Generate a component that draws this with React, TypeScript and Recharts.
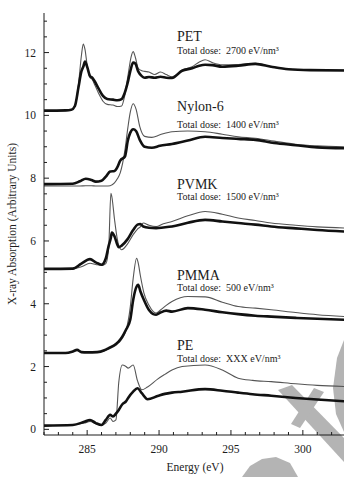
import { LineChart, Line, XAxis, YAxis, ReferenceDot } from "recharts";

const FONT = '"Liberation Serif", "Times New Roman", Times, serif';
const INK = "#1c1c1c";

// C 1s NEXAFS spectra, stacked with offsets. "pristine" = thin trace, "damaged" = thick trace.
const petEnergy = [282.0, 283.5, 283.9, 284.15, 284.4, 284.6, 284.73, 284.85, 285.0, 285.2, 285.35, 285.5, 285.8, 286.1, 286.4, 286.8, 287.1, 287.4, 287.6, 287.85, 288.05, 288.2, 288.35, 288.55, 288.8, 289.0, 289.3, 289.7, 290.1, 290.5, 290.9, 291.6, 292.3, 292.8, 293.2, 293.7, 294.4, 295.5, 296.7, 297.8, 299.0, 300.5, 303.0];
const petPristine = [10.15, 10.15, 10.17, 10.3, 11.0, 11.9, 12.27, 12.1, 11.6, 11.2, 11.15, 11.0, 10.7, 10.45, 10.35, 10.33, 10.28, 10.3, 10.6, 11.3, 11.85, 12.03, 11.85, 11.5, 11.42, 11.4, 11.38, 11.3, 11.38, 11.3, 11.23, 11.44, 11.55, 11.7, 11.77, 11.68, 11.61, 11.62, 11.66, 11.55, 11.47, 11.45, 11.44];
const petDamaged = [10.15, 10.16, 10.18, 10.3, 10.9, 11.4, 11.55, 11.71, 11.55, 11.25, 11.2, 11.1, 10.85, 10.62, 10.52, 10.5, 10.48, 10.52, 10.7, 11.1, 11.5, 11.68, 11.65, 11.4, 11.25, 11.2, 11.22, 11.2, 11.23, 11.2, 11.19, 11.42, 11.5, 11.58, 11.61, 11.6, 11.55, 11.58, 11.64, 11.55, 11.47, 11.44, 11.43];

const nylonEnergy = [282.0, 284.0, 284.5, 284.9, 285.3, 285.6, 286.0, 286.3, 286.6, 286.9, 287.1, 287.3, 287.63, 287.83, 288.0, 288.2, 288.4, 288.66, 289.0, 289.5, 290.06, 290.9, 292.0, 293.2, 294.4, 295.5, 296.7, 298.0, 299.5, 301.0, 303.0];
const nylonPristine = [7.75, 7.75, 7.75, 7.76, 7.76, 7.75, 7.75, 7.75, 7.76, 7.85, 7.98, 8.17, 8.9, 9.6, 10.1, 10.37, 10.2, 9.64, 9.33, 9.3, 9.38, 9.48, 9.5, 9.48, 9.4, 9.32, 9.27, 9.18, 9.08, 9.03, 9.0];
const nylonDamaged = [7.81, 7.82, 7.9, 7.98, 7.94, 7.89, 7.92, 8.05, 8.21, 8.23, 8.35, 8.56, 8.69, 9.2, 9.45, 9.56, 9.5, 9.22, 9.0, 8.97, 9.03, 9.09, 9.2, 9.32, 9.28, 9.25, 9.22, 9.12, 9.05, 8.98, 8.95];

const pvmkEnergy = [282.0, 284.0, 284.6, 285.2, 285.6, 286.0, 286.3, 286.5, 286.65, 286.72, 286.9, 287.1, 287.2, 287.4, 287.8, 288.2, 288.5, 288.7, 288.9, 289.3, 289.8, 290.3, 290.9, 292.0, 293.2, 294.4, 295.5, 296.7, 297.8, 299.5, 301.0, 303.0];
const pvmkPristine = [5.11, 5.11, 5.18, 5.29, 5.25, 5.22, 5.28, 5.8, 7.52, 7.4, 6.7, 6.05, 5.85, 5.72, 5.9, 6.2, 6.38, 6.45, 6.57, 6.5, 6.46, 6.55, 6.62, 6.8, 6.94, 6.85, 6.73, 6.65, 6.57, 6.5, 6.45, 6.41];
const pvmkDamaged = [5.11, 5.12, 5.28, 5.42, 5.32, 5.24, 5.45, 5.85, 6.1, 6.27, 6.15, 5.88, 5.8, 5.85, 6.05, 6.35, 6.52, 6.54, 6.46, 6.42, 6.41, 6.43, 6.46, 6.58, 6.67, 6.62, 6.57, 6.52, 6.46, 6.4, 6.35, 6.3];

const pmmaEnergy = [282.0, 283.5, 284.0, 284.3, 284.6, 285.0, 285.7, 286.2, 286.5, 287.0, 287.2, 287.7, 288.0, 288.2, 288.44, 288.55, 288.7, 288.95, 289.3, 289.6, 289.8, 290.1, 290.5, 290.9, 292.0, 293.2, 294.4, 295.5, 296.7, 297.8, 299.5, 301.0, 303.0];
const pmmaPristine = [2.43, 2.43, 2.47, 2.53, 2.46, 2.45, 2.46, 2.5, 2.56, 2.68, 2.76, 3.15, 3.9, 4.8, 5.45, 5.3, 4.9, 4.34, 3.95, 3.75, 3.7, 3.8, 3.95, 4.07, 4.23, 4.22, 4.05, 3.91, 3.86, 3.81, 3.72, 3.65, 3.59];
const pmmaDamaged = [2.43, 2.43, 2.48, 2.53, 2.46, 2.45, 2.46, 2.52, 2.59, 2.72, 2.8, 3.17, 3.5, 4.12, 4.55, 4.6, 4.4, 4.12, 3.8, 3.67, 3.65, 3.72, 3.78, 3.75, 3.86, 3.81, 3.73, 3.67, 3.62, 3.59, 3.55, 3.52, 3.49];

const peEnergy = [282.0, 284.0, 284.8, 285.2, 285.6, 286.0, 286.3, 286.6, 286.8, 287.0, 287.2, 287.45, 287.7, 287.85, 288.2, 288.5, 288.8, 289.2, 289.9, 290.4, 290.9, 291.6, 293.2, 294.4, 295.5, 296.5, 297.8, 299.5, 301.0, 303.0];
const pePristine = [0.12, 0.14, 0.2, 0.25, 0.18, 0.14, 0.2, 0.36, 0.25, 0.3, 1.5, 2.05, 2.0, 1.95, 2.05, 1.55, 1.26, 1.35, 1.6, 1.75, 1.89, 2.0, 2.05, 1.89, 1.63, 1.56, 1.52, 1.45, 1.4, 1.36];
const peDamaged = [0.12, 0.14, 0.24, 0.3, 0.2, 0.14, 0.3, 0.46, 0.41, 0.5, 0.62, 0.8, 0.89, 1.0, 1.2, 1.31, 1.15, 0.96, 1.06, 1.13, 1.17, 1.2, 1.28, 1.23, 1.17, 1.12, 1.07, 1.0, 0.95, 0.89];

// annotation text
const polymerNames = ["PET", "Nylon-6", "PVMK", "PMMA", "PE"];
const doseValues = ["2700", "1400", "1500", "500", "XXX"];
const nameLevels = [12.36, 10.15, 7.66, 4.77, 2.52];
const doseLevels = [11.97, 9.61, 7.3, 4.42, 2.13];
const labelEnergy = 291.25;

const xTicks = Array.from({ length: 22 }, (_, i) => 282 + i);
const yTicks = Array.from({ length: 27 }, (_, i) => i * 0.5);

const rows = (energy: number[], values: number[]) => energy.map((e, i) => ({ e, v: values[i] }));

const spectra = [
  { key: "pet", pristine: rows(petEnergy, petPristine), damaged: rows(petEnergy, petDamaged) },
  { key: "nylon", pristine: rows(nylonEnergy, nylonPristine), damaged: rows(nylonEnergy, nylonDamaged) },
  { key: "pvmk", pristine: rows(pvmkEnergy, pvmkPristine), damaged: rows(pvmkEnergy, pvmkDamaged) },
  { key: "pmma", pristine: rows(pmmaEnergy, pmmaPristine), damaged: rows(pmmaEnergy, pmmaDamaged) },
  { key: "pe", pristine: rows(peEnergy, pePristine), damaged: rows(peEnergy, peDamaged) },
];

const serif = { fontFamily: FONT };

// ticks point into the plot; majors get labels
function BottomTick({ x, y, payload }: any) {
  const major = payload.value % 5 === 0;
  return (
    <g>
      <line x1={x} y1={y} x2={x} y2={y - (major ? 5 : 3)} stroke={INK} />
      {major && (
        <text x={x} y={y + 18} textAnchor="middle" style={serif} fontSize={11.5} fill={INK}>
          {payload.value}
        </text>
      )}
    </g>
  );
}

function TopTick({ x, y, payload }: any) {
  const major = payload.value % 5 === 0;
  return <line x1={x} y1={y} x2={x} y2={y + (major ? 5 : 3)} stroke={INK} />;
}

function LeftTick({ x, y, payload }: any) {
  const major = payload.value % 2 === 0;
  return (
    <g>
      <line x1={x} y1={y} x2={x + (major ? 5 : 3)} y2={y} stroke={INK} />
      {major && (
        <text x={x - 8} y={y + 4} textAnchor="end" style={serif} fontSize={11.5} fill={INK}>
          {payload.value}
        </text>
      )}
    </g>
  );
}

function RightTick({ x, y, payload }: any) {
  const major = payload.value % 2 === 0;
  return <line x1={x} y1={y} x2={x - (major ? 5 : 3)} y2={y} stroke={INK} />;
}

const textAt = (content: string, size: number) => ({ viewBox }: any) => (
  <text x={viewBox.x} y={viewBox.y} style={serif} fontSize={size} fill={INK}>
    {content}
  </text>
);

export default function App() {
  return (
    <div
      style={{
        position: "absolute",
        left: 0,
        top: 0,
        width: 344,
        height: 477,
        overflow: "hidden",
        background: "#fff",
        fontFamily: FONT,
      }}
    >
      {/* grey overlay marks in the lower right corner */}
      <svg width={344} height={477} style={{ position: "absolute", left: 0, top: 0 }}>
        <g fill="#b4b4b4">
          <polygon points="278,390 292,385 344,438 344,462" />
          <polygon points="314,388 324,392 300,428 291,424" />
          <polygon points="344,340 337,358 333,388 336,414 344,432" />
          <polygon points="242,477 250,466 262,459 276,457 290,463 298,477" />
        </g>
      </svg>
      <div style={{ position: "absolute", left: 0, top: 0 }}>
        <LineChart
          width={350}
          height={477}
          margin={{ top: 13, right: 4, bottom: 0, left: 0 }}
          style={{ fontFamily: FONT }}
        >
          <XAxis
            dataKey="e"
            type="number"
            domain={[282, 303]}
            allowDataOverflow
            ticks={xTicks}
            interval={0}
            tickSize={0}
            tickMargin={0}
            tickLine={false}
            tick={(p: any) => <BottomTick {...p} />}
            height={42}
            stroke={INK}
            label={{
              value: "Energy (eV)",
              position: "insideBottom",
              offset: 6,
              fontSize: 11.5,
              fill: INK,
              style: serif,
            }}
          />
          <XAxis
            xAxisId="top"
            orientation="top"
            dataKey="e"
            type="number"
            domain={[282, 303]}
            allowDataOverflow
            ticks={xTicks}
            interval={0}
            tickSize={0}
            tickMargin={0}
            tickLine={false}
            tick={(p: any) => <TopTick {...p} />}
            height={0}
            stroke={INK}
          />
          <YAxis
            type="number"
            domain={[-0.18, 13.26]}
            allowDataOverflow
            ticks={yTicks}
            interval={0}
            tickSize={0}
            tickMargin={0}
            tickLine={false}
            tick={(p: any) => <LeftTick {...p} />}
            width={44}
            stroke={INK}
            label={{
              value: "X-ray Absorption (Arbitrary Units)",
              angle: -90,
              position: "insideLeft",
              offset: 12,
              fontSize: 11.5,
              fill: INK,
              style: { textAnchor: "middle", fontFamily: FONT },
            }}
          />
          <YAxis
            yAxisId="right"
            orientation="right"
            type="number"
            domain={[-0.18, 13.26]}
            allowDataOverflow
            ticks={yTicks}
            interval={0}
            tickSize={0}
            tickMargin={0}
            tickLine={false}
            tick={(p: any) => <RightTick {...p} />}
            width={0}
            stroke={INK}
          />

          {spectra.map((s) => (
            <Line
              key={s.key + "-pristine"}
              data={s.pristine}
              dataKey="v"
              type="monotone"
              stroke="#555"
              strokeWidth={1.1}
              dot={false}
              activeDot={false}
              isAnimationActive={false}
            />
          ))}
          {spectra.map((s) => (
            <Line
              key={s.key + "-damaged"}
              data={s.damaged}
              dataKey="v"
              type="monotone"
              stroke="#111"
              strokeWidth={2.6}
              dot={false}
              activeDot={false}
              isAnimationActive={false}
            />
          ))}

          {polymerNames.map((name, i) => (
            <ReferenceDot
              key={name}
              x={labelEnergy}
              y={nameLevels[i]}
              r={0}
              stroke="none"
              label={textAt(name, 14)}
            />
          ))}
          {doseValues.map((dose, i) => (
            <ReferenceDot
              key={"dose-" + polymerNames[i]}
              x={labelEnergy}
              y={doseLevels[i]}
              r={0}
              stroke="none"
              label={textAt(`Total dose:\u00a0 ${dose} eV/nm³`, 10)}
            />
          ))}
        </LineChart>
      </div>
    </div>
  );
}
